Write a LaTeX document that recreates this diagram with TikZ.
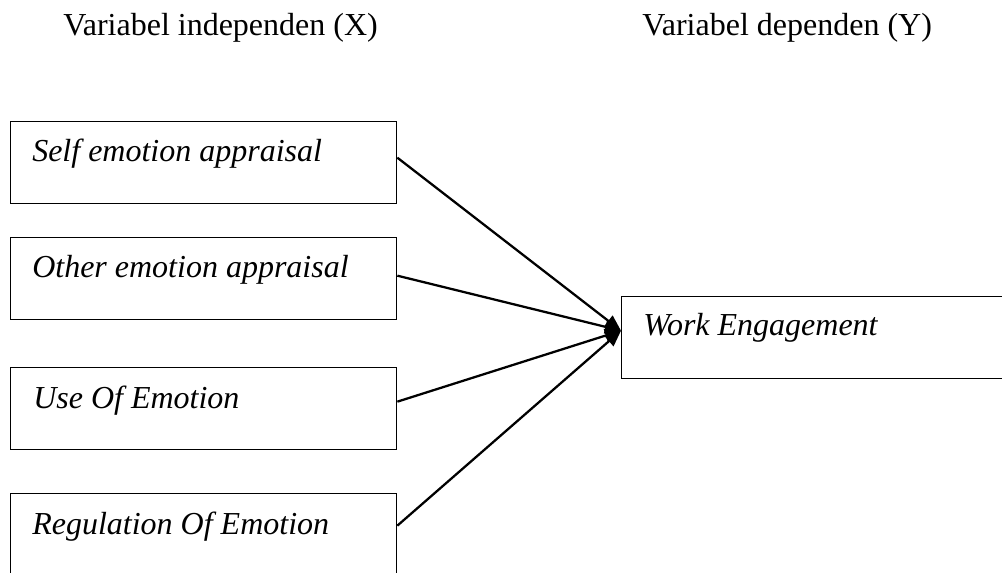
\documentclass[tikz,border=0pt]{standalone}
\usepackage{fontspec}
\setmainfont{Liberation Serif}
\usetikzlibrary{arrows.meta}
\begin{document}
\begin{tikzpicture}[x=0.75pt,y=-0.75pt,
  varbox/.style={draw,line width=1pt,rectangle,anchor=north west,minimum width=289.5pt,minimum height=61.5pt,inner sep=0pt},
  deprbox/.style={draw,line width=1pt,rectangle,anchor=north west,minimum width=300pt,minimum height=61.5pt,inner sep=0pt},
  lbl/.style={anchor=base west,inner sep=0pt,font=\fontsize{24}{28}\selectfont\itshape},
  hdr/.style={anchor=base west,inner sep=0pt,font=\fontsize{24}{28}\selectfont},
  conn/.style={line width=1.7pt,-{Triangle[length=12pt,width=10pt]}}]
\useasboundingbox (0,0) rectangle (1002,573);
\clip (0,0) rectangle (1002,573);
\fill[white] (0,0) rectangle (1002,573);
% headers
\node[hdr] (hx) at (63,36) {Variabel independen (X)};
\node[hdr] (hy) at (642,36) {Variabel dependen (Y)};
% boxes
\node[varbox] (b1) at (10,121) {};
\node[varbox] (b2) at (10,237) {};
\node[varbox] (b3) at (10,367) {};
\node[varbox] (b4) at (10,493) {};
\node[deprbox] (we) at (621,296) {};
% labels
\node[lbl] (t1) at (32,162) {Self emotion appraisal};
\node[lbl] (t2) at (32,278) {Other emotion appraisal};
\node[lbl] (t3) at (33,408) {Use Of Emotion};
\node[lbl] (t4) at (32,534) {Regulation Of Emotion};
\node[lbl] (tw) at (643,335) {Work Engagement};
% connectors
\coordinate (tip) at ([yshift=5.25pt]we.west);
\draw[conn] ([yshift=3.75pt]b1.east) -- (tip);
\draw[conn] ([yshift=2.25pt]b2.east) -- (tip);
\draw[conn] ([yshift=5.25pt]b3.east) -- (tip);
\draw[conn] ([yshift=6.75pt]b4.east) -- (tip);
\end{tikzpicture}
\end{document}
